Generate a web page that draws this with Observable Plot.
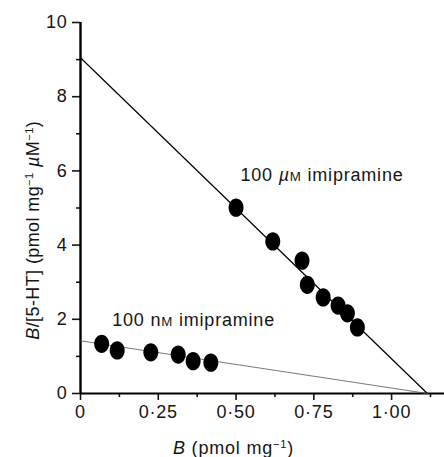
<!DOCTYPE html>
<html>
<head>
<meta charset="utf-8">
<script src="https://cdn.jsdelivr.net/npm/d3@7"></script>
<script src="https://cdn.jsdelivr.net/npm/@observablehq/plot@0.6"></script>
<style>
  html, body { margin: 0; padding: 0; background: #fff; }
  svg { display: block; }
  svg text { letter-spacing: 0.8px; }
  svg text.ytitle { letter-spacing: 0.4px; }
</style>
</head>
<body>
<div id="chart"></div>
<script>
// ---- data ----
const muX = [0.50, 0.618, 0.712, 0.729, 0.78, 0.828, 0.858, 0.89];
const muY = [5.01, 4.10, 3.58, 2.93, 2.59, 2.37, 2.16, 1.78];
const nmX = [0.068, 0.118, 0.226, 0.314, 0.362, 0.419];
const nmY = [1.34, 1.16, 1.11, 1.05, 0.87, 0.83];
const muFitX = [0, 1.115];
const muFitY = [9.05, 0];
const nmFitX = [0, 1.115];
const nmFitY = [1.42, 0];
const xTicks = [0, 0.25, 0.5, 0.75, 1.0];
const xMinor = [0.125, 0.375, 0.625, 0.875, 1.125];
const yTicks = [0, 2, 4, 6, 8, 10];
const yMinor = [1, 3, 5, 7, 9];
const annoLabels = ["100 µM imipramine", "100 nM imipramine"];
const annoX = [0.514, 0.102];
const annoY = [5.74, 1.81];
const titleLabels = ["B (pmol mg-1)", "B/[5-HT] (pmol mg-1 µM-1)"];

const mu = muX.map((x, i) => ({x, y: muY[i]}));
const nm = nmX.map((x, i) => ({x, y: nmY[i]}));
const muFit = muFitX.map((x, i) => ({x, y: muFitY[i]}));
const nmFit = nmFitX.map((x, i) => ({x, y: nmFitY[i]}));
const annos = annoLabels.map((t, i) => ({t, x: annoX[i], y: annoY[i]}));
const xTitleRow = [{t: titleLabels[0], x: 0.492, y: 0}];
const yTitleRow = [{t: titleLabels[1], x: 0, y: 4.4}];

const fmt = d => d === 0 ? "0" : d.toFixed(2).replace(".", "\u00b7");

// ellipse-shaped dot (taller than wide)
const ellipse = {
  draw(ctx, size) {
    const r = Math.sqrt(size / Math.PI);
    const rx = 0.9 * r, ry = 1.1 * r, k = 0.5523;
    ctx.moveTo(rx, 0);
    ctx.bezierCurveTo(rx, k * ry, k * rx, ry, 0, ry);
    ctx.bezierCurveTo(-k * rx, ry, -rx, k * ry, -rx, 0);
    ctx.bezierCurveTo(-rx, -k * ry, -k * rx, -ry, 0, -ry);
    ctx.bezierCurveTo(k * rx, -ry, rx, -k * ry, rx, 0);
    ctx.closePath();
  }
};

const FS = 18;
const chart = Plot.plot({
  width: 444,
  height: 457,
  marginLeft: 80,
  marginRight: 0,
  marginTop: 22,
  marginBottom: 64,
  style: {fontFamily: "'Liberation Sans', Arial, sans-serif", fontSize: FS + "px", color: "#151515", background: "#fff"},
  x: {domain: [0, 1.17]},
  y: {domain: [0, 10]},
  marks: [
    Plot.axisX(xTicks, {tickSize: 7, tickPadding: 5, tickFormat: fmt, label: null, fontSize: FS, strokeWidth: 1.6}),
    Plot.axisX(xMinor, {tickSize: 4, tickFormat: () => "", label: null, strokeWidth: 1.6}),
    Plot.axisY(yTicks, {tickSize: 8, tickPadding: 5, label: null, fontSize: FS, strokeWidth: 1.6}),
    Plot.axisY(yMinor, {tickSize: 4, tickFormat: () => "", label: null, strokeWidth: 1.6}),
    Plot.ruleY([0], {stroke: "#000", strokeWidth: 2}),
    Plot.ruleX([0], {y1: 0, y2: 10, stroke: "#000", strokeWidth: 2.4}),
    Plot.line(muFit, {x: "x", y: "y", stroke: "#000", strokeWidth: 1.2}),
    Plot.line(nmFit, {x: "x", y: "y", stroke: "#555", strokeWidth: 0.8}),
    Plot.dot(mu, {x: "x", y: "y", r: 8.3, symbol: ellipse, fill: "#000", stroke: "none"}),
    Plot.dot(nm, {x: "x", y: "y", r: 8.3, symbol: ellipse, fill: "#000", stroke: "none"}),
    Plot.text(annos, {x: "x", y: "y", text: "t", textAnchor: "start", lineAnchor: "bottom", fontSize: FS, fill: "#151515"}),
    Plot.text(xTitleRow, {x: "x", y: "y", dy: 55, text: "t", fontSize: FS, fill: "#151515"}),
    Plot.text(yTitleRow, {x: "x", y: "y", dx: -47, rotate: -90, text: "t", fontSize: FS, fill: "#151515"})
  ]
});

// rich text formatting (italics, small caps, superscripts)
const rich = {
  "100 µM imipramine": [["100 "], ["µ", "i"], ["M", "sc"], [" imipramine"]],
  "100 nM imipramine": [["100 n"], ["M", "sc"], [" imipramine"]],
  "B (pmol mg-1)": [["B", "i"], [" (pmol mg"], ["\u22121", "sup"], [")"]],
  "B/[5-HT] (pmol mg-1 µM-1)": [["B", "i"], ["/[5-HT] (pmol mg"], ["\u22121", "sup"], [" "], ["µ", "i"], ["M"], ["\u22121", "sup"], [")"]]
};
d3.select(chart).selectAll("text").each(function() {
  const s = this.textContent;
  const segs = rich[s];
  if (!segs) return;
  const el = d3.select(this);
  if (s === titleLabels[1]) el.classed("ytitle", true);
  el.text(null);
  for (const [t, kind] of segs) {
    const ts = el.append("tspan").text(t);
    if (kind === "i") ts.attr("font-style", "italic");
    if (kind === "sc") ts.attr("font-size", "0.74em");
    if (kind === "sup") ts.attr("font-size", "0.62em").attr("baseline-shift", "super");
  }
});

document.getElementById("chart").appendChild(chart);
</script>
</body>
</html>
